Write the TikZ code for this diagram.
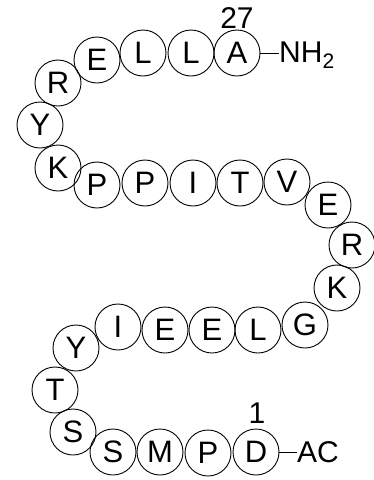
\documentclass[tikz,border=0pt]{standalone}
\usepackage{fontspec}
\setmainfont{Liberation Sans}
\begin{document}
\begin{tikzpicture}[x=1pt,y=-1pt,
        res/.style={draw,circle,minimum size=46pt,inner sep=0pt,line width=0.9pt,font=\fontsize{31}{31}\selectfont},
        lbl/.style={inner sep=0pt,font=\fontsize{30}{30}\selectfont}]
        \useasboundingbox (0,0) rectangle (374,480);

        % bottom row, from residue 1
        \node[res] (r1) at (256,452) {D};
        \node[res] (r2) at (208,453) {P};
        \node[res] (r3) at (160,452) {M};
        \node[res] (r4) at (113,452) {S};
        \node[res] (r5) at (73,432) {S};
        \node[res] (r6) at (55,390) {T};
        \node[res] (r7) at (76,348) {Y};

        % second row
        \node[res] (r8) at (118,327) {I};
        \node[res] (r9) at (165,330) {E};
        \node[res] (r10) at (212,330) {E};
        \node[res] (r11) at (258,330) {L};
        \node[res] (r12) at (305,325) {G};
        \node[res] (r13) at (337,288) {K};
        \node[res] (r14) at (352,245) {R};
        \node[res] (r15) at (328,205) {E};

        % third row
        \node[res] (r16) at (287,182) {V};
        \node[res] (r17) at (240,183) {T};
        \node[res] (r18) at (193,183) {I};
        \node[res] (r19) at (145,183) {P};
        \node[res] (r20) at (97,185) {P};
        \node[res] (r21) at (58,168) {K};
        \node[res] (r22) at (40,125) {Y};
        \node[res] (r23) at (58,83) {R};

        % top row
        \node[res] (r24) at (97,60) {E};
        \node[res] (r25) at (143,53) {L};
        \node[res] (r26) at (191,53) {L};
        \node[res] (r27) at (237,53) {A};

        % numbers and ends
        \node[lbl] (n27) at (237,18) {27};
        \node[lbl] (n1) at (257,413) {1};
        \node[lbl,anchor=west] (nh) at (279,55) {NH\textsubscript{2}};
        \node[lbl,anchor=west] (ac) at (297,452) {AC};

        \draw[line width=0.9pt] (r27.east) -- (nh.west |- r27.east);
        \draw[line width=0.9pt] (r1.east) -- (ac.west |- r1.east);
    \end{tikzpicture}
\end{document}
